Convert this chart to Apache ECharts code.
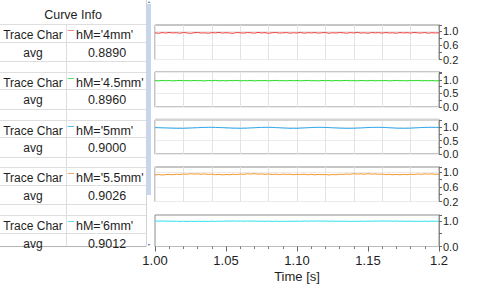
<!DOCTYPE html>
<html><head><meta charset="utf-8">
<script src="https://cdn.jsdelivr.net/npm/echarts@6/dist/echarts.min.js"></script>
<style>html,body{margin:0;padding:0;background:#fff}#c{width:480px;height:286px}</style>
</head><body><div id="c"></div><script>
const times = [
1.0000,1.0025,1.0050,1.0075,1.0100,1.0125,1.0150,1.0175,1.0200,1.0225,
1.0250,1.0275,1.0300,1.0325,1.0350,1.0375,1.0400,1.0425,1.0450,1.0475,
1.0500,1.0525,1.0550,1.0575,1.0600,1.0625,1.0650,1.0675,1.0700,1.0725,
1.0750,1.0775,1.0800,1.0825,1.0850,1.0875,1.0900,1.0925,1.0950,1.0975,
1.1000,1.1025,1.1050,1.1075,1.1100,1.1125,1.1150,1.1175,1.1200,1.1225,
1.1250,1.1275,1.1300,1.1325,1.1350,1.1375,1.1400,1.1425,1.1450,1.1475,
1.1500,1.1525,1.1550,1.1575,1.1600,1.1625,1.1650,1.1675,1.1700,1.1725,
1.1750,1.1775,1.1800,1.1825,1.1850,1.1875,1.1900,1.1925,1.1950,1.1975,
1.2000];
const red = [
0.951,0.938,0.957,0.944,0.962,0.947,0.955,0.940,0.958,0.949,
0.936,0.953,0.961,0.945,0.950,0.939,0.956,0.948,0.963,0.942,
0.954,0.946,0.937,0.959,0.950,0.943,0.957,0.952,0.940,0.961,
0.947,0.955,0.938,0.953,0.960,0.944,0.949,0.958,0.941,0.952,
0.946,0.962,0.939,0.955,0.948,0.957,0.943,0.951,0.960,0.937,
0.954,0.945,0.959,0.950,0.941,0.956,0.947,0.962,0.944,0.953,
0.938,0.958,0.949,0.955,0.942,0.960,0.946,0.951,0.939,0.957,
0.948,0.954,0.943,0.961,0.950,0.945,0.958,0.940,0.953,0.947,
0.952];
const green = [
0.973,0.964,0.978,0.967,0.975,0.961,0.971,0.980,0.966,0.974,
0.963,0.977,0.969,0.972,0.960,0.976,0.968,0.981,0.965,0.973,
0.962,0.975,0.970,0.978,0.964,0.972,0.967,0.979,0.961,0.974,
0.969,0.976,0.963,0.971,0.980,0.966,0.973,0.962,0.977,0.968,
0.975,0.964,0.972,0.979,0.965,0.971,0.961,0.978,0.969,0.974,
0.963,0.976,0.967,0.972,0.980,0.965,0.973,0.962,0.977,0.970,
0.966,0.979,0.964,0.974,0.968,0.975,0.961,0.972,0.978,0.967,
0.973,0.963,0.976,0.970,0.979,0.965,0.972,0.968,0.975,0.964,
0.971];
const blue = [
0.977,0.975,0.969,0.966,0.960,0.957,0.952,0.953,0.952,0.958,
0.962,0.970,0.974,0.983,0.985,0.990,0.988,0.986,0.980,0.977,
0.968,0.964,0.956,0.955,0.951,0.955,0.958,0.967,0.972,0.981,
0.984,0.990,0.988,0.986,0.978,0.973,0.963,0.959,0.952,0.953,
0.953,0.960,0.965,0.974,0.980,0.988,0.988,0.989,0.983,0.979,
0.971,0.966,0.958,0.956,0.951,0.953,0.954,0.961,0.965,0.975,
0.980,0.987,0.988,0.990,0.985,0.981,0.972,0.966,0.957,0.955,
0.951,0.955,0.957,0.966,0.972,0.981,0.984,0.989,0.988,0.987,
0.980];
const orange = [
0.932,0.945,0.928,0.941,0.947,0.936,0.952,0.944,0.958,0.949,
0.966,0.955,0.963,0.951,0.960,0.946,0.954,0.938,0.947,0.933,
0.944,0.936,0.951,0.942,0.957,0.948,0.965,0.956,0.968,0.953,
0.961,0.947,0.958,0.944,0.953,0.940,0.955,0.946,0.951,0.938,
0.949,0.941,0.953,0.937,0.948,0.934,0.946,0.939,0.943,0.931,
0.944,0.936,0.951,0.945,0.958,0.950,0.966,0.955,0.963,0.952,
0.967,0.954,0.960,0.947,0.955,0.941,0.950,0.937,0.946,0.934,
0.948,0.939,0.952,0.944,0.958,0.947,0.962,0.953,0.960,0.949,
0.955];
const cyan = [
0.996,0.989,0.998,0.985,0.992,0.983,0.990,0.979,0.987,0.976,
0.985,0.978,0.988,0.980,0.986,0.977,0.989,0.982,0.991,0.984,
0.995,0.987,0.997,0.989,0.994,0.986,0.996,0.988,0.993,0.985,
0.992,0.983,0.990,0.981,0.988,0.979,0.987,0.980,0.989,0.983,
0.991,0.985,0.994,0.987,0.996,0.989,0.998,0.990,0.995,0.987,
0.993,0.984,0.990,0.982,0.988,0.980,0.987,0.981,0.989,0.984,
0.992,0.986,0.995,0.988,0.997,0.990,0.996,0.988,0.994,0.986,
0.991,0.983,0.989,0.981,0.987,0.980,0.988,0.982,0.990,0.984,
0.989];
const traceNames = ["hM='4mm'", "hM='4.5mm'", "hM='5mm'", "hM='5.5mm'", "hM='6mm'"];
const avgValues = ["0.8890", "0.8960", "0.9000", "0.9026", "0.9012"];
const tableTitle = "Curve Info";
const rowLabel = "Trace Char";
const avgLabel = "avg";
const xTickLabels = ['1.00', '1.05', '1.10', '1.15', '1.2'];
const xAxisName = 'Time [s]';
const yTickLabels = [['0.2','0.6','1.0'], ['0.0','0.5','1.0'], ['0.0','0.5','1.0'], ['0.2','0.6','1.0'], ['0.0','1.0']];
const yMins = [0.2, 0, 0, 0.2, 0];
const yMaxs = [1.17, 1.29, 1.26, 1.15, 1.23];
const yIntervals = [0.2, 0.25, 0.25, 0.2, 0.5];
const seriesValues = [red, green, blue, orange, cyan];

// styling / layout
const lineColors = ['#f03a3a', '#22e022', '#2aa8ee', '#f5952a', '#2ae2ec'];
const swatchColors = ['#f08a8a', '#66dd66', '#66bbee', '#f0a868', '#66e0ea'];
const panelTops = [25, 72, 120, 167, 215];
const panelHeights = [34.5, 35, 34, 34.5, 31.5];
const FONT = '"Liberation Sans", Arial, sans-serif';
const txtColor = '#1e1e1e';

const grids = [], xAxes = [], yAxes = [], series = [];
for (let i = 0; i < 5; i++) {
  grids.push({left: 155, right: 41, top: panelTops[i], height: panelHeights[i],
    show: true, borderColor: '#8c8c8c', borderWidth: 1, backgroundColor: 'transparent'});
  if (i < 4) {
    xAxes.push({gridIndex: i, type: 'value', min: 1.0, max: 1.2, interval: 0.02,
      axisLine: {show: false}, axisTick: {show: false}, axisLabel: {show: false},
      splitLine: {show: true, lineStyle: {color: '#e3e3e3', width: 1}}});
  } else {
    xAxes.push({gridIndex: i, type: 'value', min: 1.0, max: 1.2, interval: 0.05,
      axisLine: {show: true, lineStyle: {color: '#bdbdbd'}},
      axisTick: {show: true, length: 5, lineStyle: {color: '#666'}},
      minorTick: {show: true, splitNumber: 5, length: 2.5, lineStyle: {color: '#777'}},
      splitLine: {show: false},
      axisLabel: {fontSize: 13, color: txtColor, fontFamily: FONT, margin: 7,
        formatter: v => { const k = Math.round((v - 1.0) / 0.05); return Math.abs(1.0 + k * 0.05 - v) < 1e-6 ? (xTickLabels[k] || '') : ''; }},
      name: xAxisName, nameLocation: 'middle', nameGap: 23,
      nameTextStyle: {fontSize: 13, color: txtColor, fontFamily: FONT}});
  }
  const labs = yTickLabels[i];
  yAxes.push({gridIndex: i, type: 'value', position: 'right',
    min: yMins[i], max: yMaxs[i], interval: yIntervals[i],
    axisLine: {show: true, lineStyle: {color: '#8c8c8c'}},
    axisTick: {show: true, length: 3, lineStyle: {color: '#666'}},
    axisLabel: {fontSize: 11, color: txtColor, fontFamily: FONT, margin: 4,
      showMaxLabel: true,
      formatter: v => { const s = v.toFixed(1); return (labs.includes(s) && Math.abs(parseFloat(s) - v) < 1e-6) ? s : ''; }},
    splitLine: {show: i < 4, lineStyle: {color: ['#ebebeb', 'rgba(0,0,0,0)'], width: 1}}});
  series.push({type: 'line', xAxisIndex: i, yAxisIndex: i, showSymbol: false,
    data: times.map((t, k) => [t, seriesValues[i][k]]),
    lineStyle: {width: 1, color: lineColors[i]}, itemStyle: {color: lineColors[i]}, z: 5});
}

// table graphics
const g = [];
const tfont = (s) => s + 'px ' + FONT;
function txt(x, y, text, align, size) {
  g.push({type: 'text', x: x, y: y, z: 10, style: {text: text, font: tfont(size || 12), fill: txtColor,
    align: align, verticalAlign: 'middle', textAlign: align, textVerticalAlign: 'middle'}});
}
function ln(x1, y1, x2, y2, color, w) {
  g.push({type: 'line', z: 9, shape: {x1: x1, y1: y1, x2: x2, y2: y2}, style: {stroke: color, lineWidth: w || 1}});
}
txt(73, 15, tableTitle, 'center', 12.5);
for (let i = 0; i < 5; i++) {
  const T = 35 + 47.75 * i;
  [T - 11, T + 6.5, T + 26].forEach(y => { const yy = Math.round(y) + 0.5; if (yy < 246) ln(0, yy, 146, yy, '#dedede'); });
  txt(33, T, rowLabel, 'center', 12);
  txt(76, T, traceNames[i], 'left', 12.5);
  ln(67.5, Math.round(T - 5) + 0.5, 74, Math.round(T - 5) + 0.5, swatchColors[i], 1);
  txt(33, T + 17.5, avgLabel, 'center', 12);
  txt(107, T + 17.5, avgValues[i], 'center', 12.5);
}
ln(66.5, 24, 66.5, 246, '#dedede');
ln(0, 246.5, 146, 246.5, '#b4b4b4');
ln(146.5, 0, 146.5, 247, '#d4d4d4');
g.push({type: 'rect', z: 9, shape: {x: 147, y: 4, width: 4, height: 191}, style: {fill: '#c6d6f0'}});
g.push({type: 'polygon', z: 9, shape: {points: [[147.5, 3], [150.5, 3], [149, 1]]}, style: {fill: '#6d8fd0'}});
g.push({type: 'polygon', z: 9, shape: {points: [[147.5, 244], [150.5, 244], [149, 246]]}, style: {fill: '#6d8fd0'}});
// light top band on third panel
g.push({type: 'rect', z: 20, shape: {x: 155, y: 118.5, width: 284, height: 2.5}, style: {fill: '#d4d4d4'}});

const chart = echarts.init(document.getElementById('c'), null, {renderer: 'svg', width: 480, height: 286});
chart.setOption({
  animation: false,
  backgroundColor: '#ffffff',
  textStyle: {fontFamily: FONT},
  grid: grids, xAxis: xAxes, yAxis: yAxes, series: series, graphic: g
});
</script></body></html>
